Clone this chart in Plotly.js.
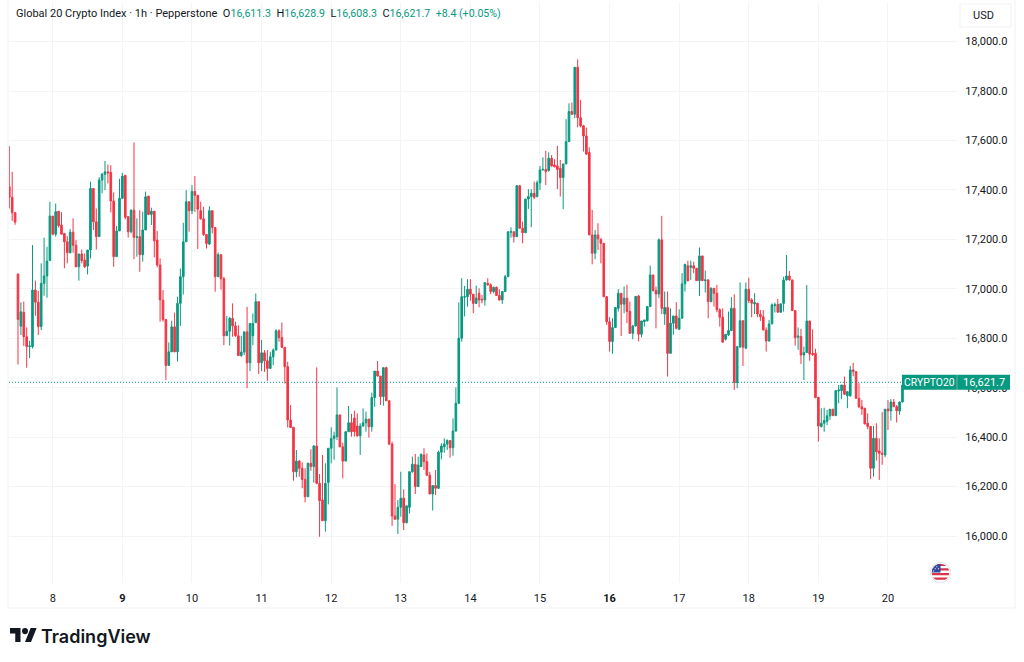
<!DOCTYPE html>
<html><head><meta charset="utf-8">
<script src="https://cdn.plot.ly/plotly-3.0.1.min.js"></script>
<style>html,body{margin:0;padding:0;background:#fff}#c{width:1024px;height:662px}</style>
</head><body><div id="c"></div>
<script>
const startTime = '2025-06-07T09:00:00Z';
const open = [
17413,17370,17308,17060,16849,16905,16806,16766,16766,16995,
16946,16847,17022,17052,17114,17294,17221,17314,17258,17224,
17190,17146,17229,17176,17089,17141,17116,17092,17157,17406,
17271,17211,17440,17463,17473,17471,17355,17130,17234,17366,
17459,17292,17231,17318,17208,17211,17138,17238,17375,17301,
17314,17197,17096,16954,16876,16690,16745,16846,16745,16941,
17049,17190,17352,17316,17394,17378,17316,17283,17220,17181,
17316,17248,17049,17138,17041,16810,16828,16880,16850,16810,
16730,16744,16826,16701,16810,16863,16948,16701,16741,16709,
16678,16725,16752,16830,16803,16763,16685,16469,16440,16260,
16303,16274,16229,16159,16294,16281,16364,16213,16146,16062,
16216,16355,16394,16402,16490,16361,16303,16422,16458,16477,
16445,16405,16445,16458,16473,16442,16560,16667,16647,16564,
16681,16547,16372,16081,16068,16116,16153,16054,16116,16260,
16290,16200,16281,16328,16301,16246,16170,16204,16193,16339,
16361,16372,16386,16357,16425,16537,16800,16966,16968,16998,
16978,16941,16982,16958,16955,17022,17016,16989,17006,16973,
16955,16989,17049,17229,17231,17211,17417,17245,17227,17363,
17373,17386,17373,17429,17481,17483,17478,17528,17501,17497,
17487,17450,17505,17595,17717,17706,17896,17692,17659,17618,
17551,17218,17144,17218,17200,17184,16968,16867,16787,16843,
16921,16982,16938,16962,16908,16820,16850,16971,16816,16867,
16871,16928,17056,16993,16979,17198,16898,16924,16739,16861,
16890,16836,16881,17020,17093,17087,17093,17083,17033,17133,
17033,17036,16948,17002,16982,16915,16885,16796,16814,16831,
16921,16621,16764,16871,16760,16998,16955,16939,16942,16897,
16887,16833,16789,16858,16932,16937,16905,16941,17036,17052,
17036,16912,16804,16807,16732,16742,16870,16739,16739,16561,
16443,16456,16464,16486,16513,16487,16587,16588,16610,16567,
16567,16672,16665,16557,16523,16517,16456,16443,16274,16395,
16344,16335,16328,16514,16506,16542,16523,16506,16542,16611.3];
const high = [
17577,17473,17308,17060,16945,16948,16844,16790,17177,17033,
16992,17103,17207,17170,17352,17294,17345,17314,17310,17224,
17213,17242,17285,17197,17141,17159,17143,17157,17433,17406,
17325,17451,17469,17517,17503,17500,17390,17254,17445,17469,
17459,17292,17321,17592,17285,17318,17312,17393,17375,17328,
17314,17234,17123,16995,16876,16783,16871,16904,16968,17082,
17267,17399,17352,17419,17456,17378,17352,17332,17220,17334,
17316,17248,17147,17138,17049,16890,16887,16941,16867,16853,
16810,16826,16927,16860,16900,16981,16948,16793,16752,16752,
16745,16759,16836,16836,16864,16763,16705,16530,16440,16348,
16308,16298,16274,16297,16351,16368,16682,16251,16328,16294,
16355,16440,16422,16601,16490,16378,16422,16526,16494,16507,
16496,16456,16516,16503,16473,16580,16667,16708,16647,16681,
16685,16547,16382,16210,16146,16260,16189,16122,16260,16321,
16332,16321,16334,16355,16334,16260,16204,16267,16345,16375,
16395,16391,16388,16476,16601,16945,17043,17012,17039,17039,
16978,17013,17002,16975,17025,17043,17022,17009,17009,16998,
16991,17056,17231,17249,17231,17420,17420,17272,17363,17403,
17403,17434,17438,17497,17532,17558,17552,17541,17524,17578,
17521,17505,17686,17750,17753,17896,17928,17764,17663,17652,
17572,17319,17238,17265,17204,17184,16971,16885,16881,16924,
16999,16982,17009,17016,16948,16854,16969,16975,16870,16874,
16931,17094,17056,17009,17204,17295,16989,16989,16921,16890,
16946,16917,17063,17099,17114,17114,17110,17083,17167,17133,
17074,17039,17006,17002,17016,16921,16921,16816,16908,16966,
16978,16769,17026,16871,17026,17045,16962,16982,16942,16914,
16914,16844,16874,16941,16944,16959,16941,17049,17137,17072,
17036,16914,16844,16838,16766,17015,16870,16836,16757,16561,
16517,16519,16510,16513,16513,16591,16611,16611,16645,16584,
16688,16701,16665,16618,16550,16517,16496,16443,16445,16456,
16395,16501,16513,16550,16554,16554,16530,16544,16611,16628.9];
const low = [
17325,17275,17259,16694,16813,16769,16681,16720,16759,16891,
16813,16833,16972,16964,17114,17216,17211,17248,17221,17083,
17103,17143,17146,17087,17033,17103,17083,17058,17123,17238,
17159,17211,17386,17399,17426,17309,17089,17130,17234,17363,
17281,17207,17224,17120,17130,17069,17110,17238,17298,17258,
17127,17087,16867,16867,16631,16690,16745,16745,16706,16850,
16977,17190,17231,17302,17311,17161,17280,17214,17163,17177,
17224,16988,17049,16997,16772,16810,16770,16806,16806,16728,
16725,16732,16598,16667,16772,16863,16655,16667,16664,16628,
16678,16691,16752,16786,16763,16617,16439,16439,16224,16237,
16240,16193,16136,16159,16264,16216,16210,15997,16062,16018,
16128,16294,16308,16388,16359,16233,16303,16422,16402,16402,
16402,16328,16442,16422,16398,16422,16523,16645,16530,16527,
16546,16368,16041,16065,16008,16078,16024,16051,16092,16256,
16170,16200,16281,16267,16244,16170,16103,16166,16190,16310,
16337,16348,16317,16325,16422,16534,16786,16888,16928,16952,
16901,16939,16925,16941,16932,17012,16978,16982,16971,16952,
16939,16987,17049,17207,17187,17211,17245,17184,17225,17323,
17249,17362,17370,17400,17478,17420,17474,17494,17491,17403,
17373,17322,17505,17595,17703,17690,17653,17653,17555,17541,
17218,17099,17119,17157,17103,16968,16854,16746,16737,16843,
16908,16809,16901,16861,16818,16796,16847,16787,16804,16847,
16867,16928,16989,16840,16962,16898,16854,16645,16739,16814,
16836,16836,16881,16989,17029,17036,17063,17033,16971,17033,
16985,16881,16946,16928,16905,16847,16784,16791,16809,16831,
16591,16598,16764,16688,16756,16942,16885,16898,16885,16870,
16833,16746,16786,16858,16904,16905,16905,16908,17033,17033,
16910,16770,16753,16696,16631,16742,16709,16728,16557,16382,
16439,16422,16449,16470,16487,16487,16537,16553,16571,16517,
16564,16647,16554,16517,16490,16453,16432,16230,16240,16305,
16227,16288,16319,16429,16467,16523,16459,16490,16540,16608.3];
const close = [
17370,17308,17270,16876,16907,16806,16766,16769,16995,16946,
16847,17022,17052,17112,17294,17221,17312,17256,17221,17190,
17146,17229,17176,17089,17141,17114,17089,17157,17406,17271,
17211,17440,17463,17473,17469,17355,17130,17234,17366,17456,
17289,17231,17318,17208,17211,17138,17238,17372,17301,17314,
17194,17096,16955,16876,16690,16745,16846,16745,16941,17049,
17190,17352,17316,17394,17378,17322,17283,17220,17183,17316,
17248,17049,17138,17041,16810,16828,16880,16850,16810,16730,
16744,16826,16701,16860,16860,16948,16701,16741,16709,16678,
16725,16752,16830,16803,16763,16685,16469,16439,16260,16303,
16274,16229,16159,16294,16281,16364,16213,16143,16062,16213,
16355,16394,16405,16490,16361,16303,16422,16458,16422,16422,
16405,16445,16458,16473,16442,16560,16667,16647,16564,16681,
16547,16372,16081,16068,16116,16153,16054,16122,16260,16290,
16200,16287,16330,16301,16246,16170,16204,16193,16339,16364,
16372,16386,16357,16425,16537,16800,16968,16968,16998,16978,
16941,16962,16955,16955,17025,17016,16989,17006,16973,16955,
16989,17049,17231,17231,17211,17417,17245,17227,17363,17373,
17386,17370,17429,17481,17483,17474,17528,17497,17494,17483,
17450,17505,17595,17717,17706,17896,17692,17659,17618,17545,
17218,17144,17218,17202,17184,16968,16867,16787,16843,16924,
16982,16938,16962,16908,16820,16850,16969,16816,16870,16874,
16928,17056,16993,16979,17198,16921,16924,16739,16861,16890,
16840,16881,17020,17099,17033,17093,17083,17033,17133,17033,
17036,16948,17002,16982,16915,16885,16784,16816,16831,16921,
16621,16766,16871,16764,16998,16952,16942,16944,16898,16887,
16833,16789,16858,16935,16935,16905,16939,17036,17052,17036,
16912,16802,16809,16732,16742,16870,16736,16734,16560,16445,
16456,16467,16486,16513,16487,16588,16591,16611,16573,16584,
16672,16665,16557,16523,16514,16453,16443,16274,16395,16341,
16335,16331,16513,16506,16542,16523,16507,16542,16611,16621.7];
const dayTicks = ['2025-06-08','2025-06-09','2025-06-10','2025-06-11','2025-06-12','2025-06-13','2025-06-14','2025-06-15','2025-06-16','2025-06-17','2025-06-18','2025-06-19','2025-06-20'];
const dayLabels = ['8','<b>9</b>','10','11','12','13','14','15','<b>16</b>','17','18','19','20'];
const title = 'Global 20 Crypto Index · 1h · Pepperstone';
const lastPrice = 16621.7;
const lastLabel = '16,621.7';
const symbol = 'CRYPTO20';
const GREEN = '#089981', RED = '#F23645', INK = '#131722', GRID = '#f3f4f6', EDGE = '#f0f1f3';
const FONT = 'Roboto, sans-serif';

const t0 = new Date(startTime).getTime();
const times = open.map((_, i) => new Date(t0 + i * 3600000).toISOString());

const logo = 'data:image/svg+xml;utf8,' + encodeURIComponent('<svg xmlns="http://www.w3.org/2000/svg" viewBox="0 7 36 18"><path fill="#131722" d="M14 25H7V14H0V7h14v18zM28 25h-8l7.5-18h8L28 25z"/><circle fill="#131722" cx="20" cy="11" r="4"/></svg>');
const flag = 'data:image/svg+xml;utf8,' + encodeURIComponent('<svg xmlns="http://www.w3.org/2000/svg" viewBox="0 0 20 20"><defs><clipPath id="a"><circle cx="10" cy="10" r="8.4"/></clipPath></defs><circle cx="10" cy="10" r="9.6" fill="#fff" stroke="#d8dae0" stroke-width=".8"/><g clip-path="url(#a)"><rect width="20" height="20" fill="#fff"/><path fill="#d9354a" d="M0 1.6h20v2.2H0zM0 6h20v2.2H0zM0 10.4h20v2.2H0zM0 14.8h20V17H0z"/><rect width="10" height="10" y="0" fill="#30479a"/><path fill="#fff" d="M3 4h1v1H3zM6 4h1v1H6zM4.5 6h1v1h-1zM7.5 6h1v1h-1zM3 8h1v1H3z"/></g></svg>');

const L = 9, R = 957, T = 3, B = 583;
const X = p => (p - L) / (R - L), Y = p => (B - p) / (B - T);
const val = s => '<span style="color:#089981;font-size:10.6px">' + s + '</span>';

const trace = {
  type: 'candlestick', x: times, open, high, low, close,
  increasing: {line: {color: GREEN, width: 1}, fillcolor: GREEN},
  decreasing: {line: {color: RED, width: 1}, fillcolor: RED},
  whiskerwidth: 0, hoverinfo: 'skip', showlegend: false
};
const layout = {
  width: 1024, height: 662, paper_bgcolor: '#fff', plot_bgcolor: '#fff',
  margin: {l: L, r: 1024 - R, t: T, b: 662 - B},
  boxgap: 0.2, showlegend: false, dragmode: false,
  font: {family: FONT, size: 11, color: INK},
  xaxis: {type: 'date', range: ['2025-06-07T08:54:00Z', '2025-06-20T23:48:00Z'],
    rangeslider: {visible: false}, tickmode: 'array', tickvals: dayTicks, ticktext: dayLabels,
    showgrid: true, gridcolor: GRID, gridwidth: 1, zeroline: false, showline: false,
    ticks: 'outside', ticklen: 5, tickcolor: 'rgba(0,0,0,0)',
    tickangle: 0, tickfont: {family: FONT, size: 11, color: INK}},
  yaxis: {side: 'right', range: [15810, 18156], dtick: 200, tick0: 16000, tickformat: ',.1f',
    showgrid: true, gridcolor: GRID, gridwidth: 1, zeroline: false, showline: false, ticks: 'outside', ticklen: 5, tickcolor: 'rgba(0,0,0,0)',
    tickfont: {family: FONT, size: 11, color: INK}},
  shapes: [
    {type: 'line', xref: 'paper', yref: 'y', x0: X(9), x1: X(902), y0: lastPrice, y1: lastPrice, line: {color: GREEN, width: 1, dash: '1px,2px'}, layer: 'above'},
    {type: 'line', xref: 'paper', yref: 'paper', x0: X(8), x1: X(8), y0: Y(0), y1: Y(608), line: {color: EDGE, width: 1}},
    {type: 'line', xref: 'paper', yref: 'paper', x0: X(8), x1: X(1015), y0: Y(608), y1: Y(608), line: {color: EDGE, width: 1}},
    {type: 'line', xref: 'paper', yref: 'paper', x0: X(1015), x1: X(1015), y0: Y(0), y1: Y(608), line: {color: EDGE, width: 1}},
    {type: 'rect', xref: 'paper', yref: 'paper', x0: X(960), x1: X(1011), y0: Y(27), y1: Y(4), line: {color: '#f0f1f4', width: 1}, fillcolor: '#fff'},
    {type: 'rect', xref: 'paper', yref: 'y', ysizemode: 'pixel', yanchor: lastPrice, x0: X(902), x1: X(1010), y0: -7.5, y1: 7.5, line: {width: 0}, fillcolor: GREEN, layer: 'above'},
    {type: 'line', xref: 'paper', yref: 'y', ysizemode: 'pixel', yanchor: lastPrice, x0: X(957), x1: X(957), y0: -7.5, y1: 7.5, line: {color: '#5cb9a9', width: 1}, layer: 'above'}
  ],
  images: [
    {source: logo, xref: 'paper', yref: 'paper', x: X(10), y: Y(628), sizex: X(37) - X(10), sizey: Y(628) - Y(642), xanchor: 'left', yanchor: 'top', sizing: 'stretch', layer: 'above'},
    {source: flag, xref: 'paper', yref: 'paper', x: X(930), y: Y(562), sizex: X(951) - X(930), sizey: Y(562) - Y(583), xanchor: 'left', yanchor: 'top', sizing: 'stretch', layer: 'above'}
  ],
  annotations: [
    {xref: 'paper', yref: 'paper', x: X(14), y: Y(14), xanchor: 'left', yanchor: 'middle', showarrow: false, align: 'left',
     font: {family: FONT, size: 11, color: INK},
     text: title + '  O' + val('16,611.3') + '  H' + val('16,628.9') + '  L' + val('16,608.3') + '  C' + val('16,621.7') + '  ' + val('+8.4 (+0.05%)')},
    {xref: 'paper', yref: 'paper', x: X(984), y: Y(15), xanchor: 'center', yanchor: 'middle', showarrow: false, font: {family: FONT, size: 11, color: INK}, text: 'USD'},
    {xref: 'paper', yref: 'y', x: X(929.5), y: lastPrice, xanchor: 'center', yanchor: 'middle', showarrow: false, font: {family: FONT, size: 10.4, color: '#fff'}, text: symbol},
    {xref: 'paper', yref: 'y', x: X(984), y: lastPrice, xanchor: 'center', yanchor: 'middle', showarrow: false, font: {family: FONT, size: 11, color: '#fff'}, text: lastLabel},
    {xref: 'paper', yref: 'paper', x: X(39), y: Y(636), xanchor: 'left', yanchor: 'middle', showarrow: false, font: {family: 'Inter, sans-serif', size: 18, color: INK, weight: 600}, text: 'TradingView'}
  ]
};
Plotly.newPlot('c', [trace], layout, {displayModeBar: false, staticPlot: true});
</script></body></html>
